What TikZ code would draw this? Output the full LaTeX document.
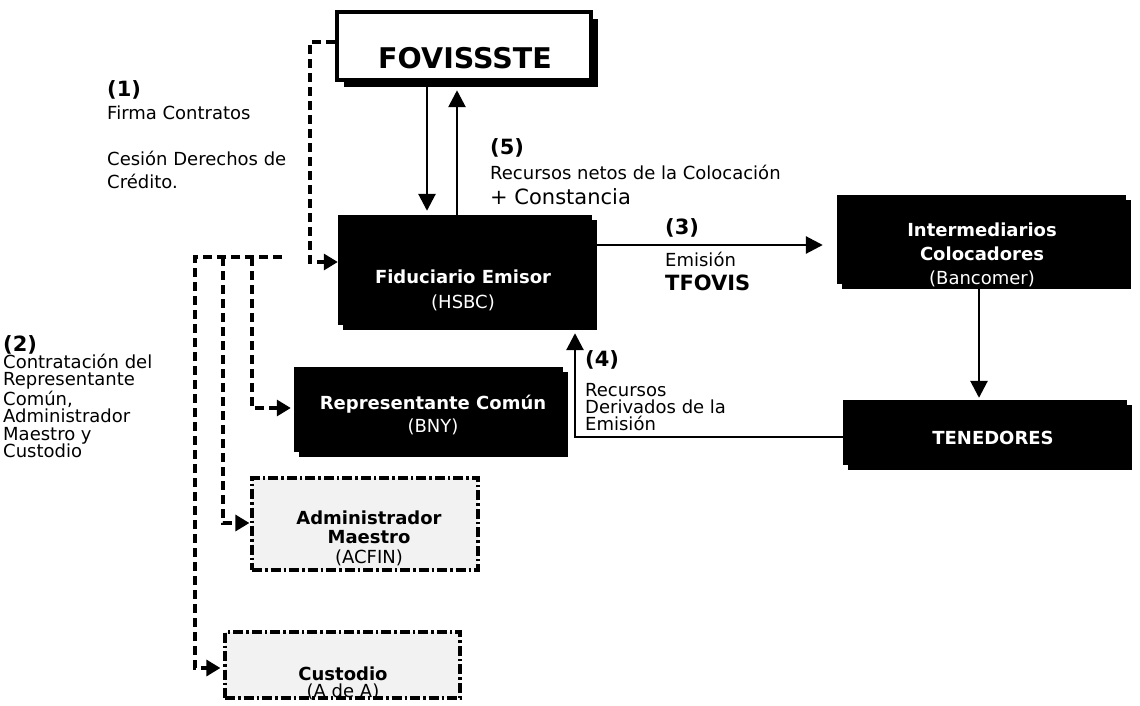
\documentclass[tikz,border=0pt]{standalone}
\usepackage{fontspec}
\setmainfont{DejaVu Sans}
\usetikzlibrary{arrows.meta,shadows}
\tikzset{
  blackbox/.style={fill=black, draw=none, inner sep=0pt,
    drop shadow={shadow xshift=5pt, shadow yshift=-5pt, fill=black, opacity=1}},
  fovbox/.style={fill=white, draw=black, line width=4.5pt, inner sep=0pt,
    drop shadow={shadow xshift=7pt, shadow yshift=-7pt, fill=black, opacity=1}},
  dotbox/.style={fill=black!5, draw=black, line width=3.2pt,
    dash pattern=on 10pt off 3pt on 2.5pt off 3pt, inner sep=0pt},
  boxtxt/.style={text=white, align=center, anchor=base, inner sep=0pt},
  lbl/.style={align=left, anchor=base west, inner sep=0pt, font=\fontsize{18}{17}\selectfont},
  num/.style={anchor=base west, inner sep=0pt, font=\bfseries\fontsize{21}{21}\selectfont},
  arr/.style={line width=2.8pt, -{Triangle[length=17pt,width=17pt]}},
  darr/.style={line width=3.2pt, dash pattern=on 9pt off 5pt, -{Triangle[length=14pt,width=16pt]}}
}
\begin{document}
\begin{tikzpicture}[x=1pt,y=-1pt]
\fill[white] (0,0) rectangle (1140,706);
\useasboundingbox (0,0) rectangle (1140,706);

% boxes
\node[fovbox, minimum width=254pt, minimum height=68pt] (fov) at (464,46) {};
\node[blackbox, minimum width=254pt, minimum height=110pt] (fid) at (465,270) {};
\node[blackbox, minimum width=269pt, minimum height=85pt] (rep) at (428.5,409.5) {};
\node[blackbox, minimum width=289pt, minimum height=89pt] (int) at (981.5,239.5) {};
\node[blackbox, minimum width=284pt, minimum height=65pt] (ten) at (985,432.5) {};
\node[dotbox, minimum width=226pt, minimum height=92pt] (adm) at (365,524) {};
\node[dotbox, minimum width=235pt, minimum height=66pt] (cus) at (342.5,665) {};

% box texts (anchor base = baseline of the last line)
\node[anchor=base, inner sep=0pt, font=\bfseries\fontsize{28.5}{30}\selectfont] (tfov) at (465,69) {FOVISSSTE};
\node[boxtxt, font=\fontsize{18}{25}\selectfont] (tfid) at (463,308) {\textbf{Fiduciario Emisor}\\(HSBC)};
\node[boxtxt, font=\fontsize{18}{23}\selectfont] (trep) at (433,432) {\textbf{Representante Común}\\(BNY)};
\node[boxtxt, font=\fontsize{18}{24}\selectfont] (tint) at (982,284) {\textbf{Intermediarios}\\\textbf{Colocadores}\\(Bancomer)};
\node[boxtxt, font=\bfseries\fontsize{18}{24}\selectfont] (tten) at (993,444) {TENEDORES};
\node[anchor=base, align=center, inner sep=0pt, font=\fontsize{18}{19.5}\selectfont] (tadm) at (369,563) {\textbf{Administrador}\\\textbf{Maestro}\\(ACFIN)};
\node[anchor=base, align=center, inner sep=0pt, font=\fontsize{18}{16.5}\selectfont] (tcus) at (343,697) {\textbf{Custodio}\\(A de A)};

% labels
\node[num] (n1) at (107,97) {(1)};
\node[lbl, font=\fontsize{18}{23}\selectfont] (t1) at (107,188) {Firma Contratos\\[23pt]Cesión Derechos de\\Crédito.};
\node[num] (n2) at (3,351) {(2)};
\node[lbl, font=\fontsize{18}{17.5}\selectfont] (t2) at (3,457.5) {Contratación del\\Representante\\Común,\\Administrador\\Maestro y\\Custodio};
\node[num] (n5) at (490,154) {(5)};
\node[lbl] (t5) at (490,179) {Recursos netos de la Colocación};
\node[lbl, font=\fontsize{21}{21}\selectfont] (t5b) at (490,204) {+ Constancia};
\node[num] (n3) at (665,234) {(3)};
\node[lbl] (t3) at (665,266) {Emisión};
\node[num] (t3b) at (665,290) {TFOVIS};
\node[num] (n4) at (585,366) {(4)};
\node[lbl] (t4) at (585,430) {Recursos\\Derivados de la\\Emisión};

% helper coordinates
\coordinate (xa) at (427,0);
\coordinate (xb) at (457,0);
\coordinate (y3) at (0,245);
\coordinate (x4) at (979,0);
\coordinate (c4) at (575,437);
\coordinate (c1) at (310,262);
\coordinate (s2) at (282,257);
\coordinate (c2a) at (195,668);
\coordinate (b2a) at (223,257);
\coordinate (c2b) at (223,523);
\coordinate (b2b) at (252,257);
\coordinate (c2c) at (252,408);

% solid connectors
\draw[arr, shorten >=4pt] (fov.south -| xa) -- (fid.north -| xa);
\draw[arr, shorten >=8pt] (fid.north -| xb) -- (fov.south -| xb);
\draw[arr, shorten >=14pt] (fid.east |- y3) -- (int.west |- y3);
\draw[arr, shorten >=2pt] (int.south -| x4) -- (ten.north -| x4);
\draw[arr, shorten >=8pt] (ten.west |- c4) -| (fid.south -| c4);

% dashed connectors
\draw[darr] ([yshift=4pt]fov.west) -| (c1) -- (fid.west |- c1);
\draw[darr, shorten >=3pt] (s2) -| (c2a) -- (cus.west |- c2a);
\draw[darr, shorten >=1pt] (b2a) -- (c2b) -- (adm.west |- c2b);
\draw[darr, shorten >=3pt] (b2b) -- (c2c) -- (rep.west |- c2c);
\end{tikzpicture}
\end{document}
